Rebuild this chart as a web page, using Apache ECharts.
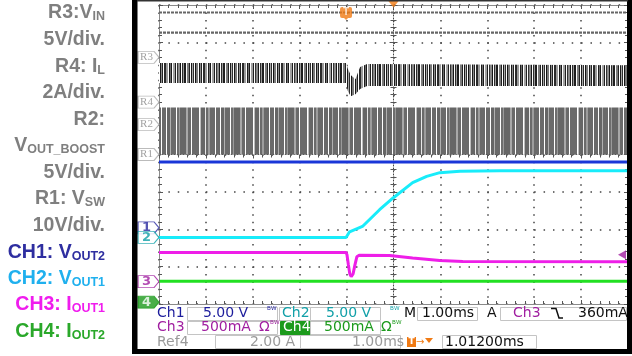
<!DOCTYPE html>
<html>
<head>
<meta charset="utf-8">
<script src="https://cdn.jsdelivr.net/npm/echarts@6/dist/echarts.min.js"></script>
<style>
  html, body { margin: 0; padding: 0; background: #fff; overflow: hidden; }
  #scope { width: 632px; height: 356px; }
</style>
</head>
<body>
<div id="scope"></div>
<script>
// ---- Timebase: 1.00 ms/div, screen centre 1.012 ms after the trigger ----
const TIME_PER_DIV = 1.0;      // ms per division
const H_DELAY = 1.012;         // ms
const TRIGGER_LEVEL = 0.36;    // A on Ch3 (falling edge)

// ---- Channel traces: time in ms after trigger, values in V or A ----
const vout2Time = [-3.988, 6.012];
const vout2Volt = [8.8, 8.8];

const vout1Time = [-3.988, 0, 0.075, 0.35, 0.715, 1.01, 1.42, 1.72, 2.0, 2.43, 3.28, 6.012];
const vout1Volt = [0, 0, 0.76, 1.47, 3.71, 5.32, 7.33, 8.18, 8.67, 8.87, 8.94, 8.94];

const iout1Time = [-3.988, 0, 0.02, 0.05, 0.08, 0.11, 0.15, 0.19, 0.23, 0.28, 0.93, 1.42, 2.0, 2.49, 6.012];
const iout1Amp  = [0.39, 0.39, 0.358, 0.224, 0.103, 0.067, 0.103, 0.224, 0.331, 0.351, 0.349, 0.314, 0.281, 0.268, 0.265];

const iout2Time = [-3.988, 6.012];
const iout2Amp  = [0.28, 0.28];

// ---- Reference waveforms ----
const vinTime = [-3.988, 6.012];
const vinVolt = [6.0, 6.0];

const vboostTime = [-3.988, 6.012];
const vboostVolt = [12.3, 12.3];

// inductor current ripple envelope (A)
const ilTime = [-3.988, 0, 0.04, 0.1, 0.2, 0.3, 0.45, 6.012];
const ilHigh = [2.09, 2.09, 1.77, 1.45, 1.23, 1.88, 2.04, 1.98];
const ilLow  = [1.02, 1.02, 0.59, 0.32, 0.43, 0.70, 0.86, 0.86];

// switch node swing (V)
const vswTime = [-3.988, 6.012];
const vswHigh = [12.6, 12.6];
const vswLow  = [0, 0];

// ---- Vertical settings: units per division and ground marker position (div) ----
const CH1 = { scale: 5,   pos: -1.96 };
const CH2 = { scale: 5,   pos: -2.22 };
const CH3 = { scale: 0.5, pos: -3.40 };
const CH4 = { scale: 0.5, pos: -3.95 };
const R1  = { scale: 10,  pos: 0 };
const R2  = { scale: 5,   pos: 0.80 };
const R3  = { scale: 5,   pos: 2.60 };
const R4  = { scale: 2,   pos: 1.40 };

const toDivX = t => (t - H_DELAY) / TIME_PER_DIV;

// vertical-stripe textures for the aliased switching waveforms
function stripePattern(stripes) {
  const total = stripes.reduce((s, st) => s + st[1], 0);
  const cv = document.createElement('canvas');
  cv.width = total; cv.height = 4;
  const ctx = cv.getContext('2d');
  let x = 0;
  for (const [col, w] of stripes) { ctx.fillStyle = col; ctx.fillRect(x, 0, w, 4); x += w; }
  return { image: cv, repeat: 'repeat' };
}
const ilFill = stripePattern([
  ['#151515',1],['#7a7a7a',2],['#fff',1],['#1a1a1a',1],['#8c8c8c',1],['#222',1],['#fff',1],
  ['#2a2a2a',2],['#9a9a9a',2],['#fff',1],['#1c1c1c',1],['#6e6e6e',1],['#1a1a1a',1],['#fff',1],
  ['#a0a0a0',2],['#202020',1],['#fff',1],['#333',1],['#888',2],['#161616',1],['#fff',1],
  ['#2b2b2b',1],['#9a9a9a',1],['#1e1e1e',2],['#fff',1],['#7c7c7c',2],['#222',1],['#fff',1],
  ['#1a1a1a',1],['#a8a8a8',1],['#2e2e2e',1],['#fff',1]
]);
const vswFill = stripePattern([
  ['#6a6a6a',4],['#fff',1],['#666',3],['#b0b0b0',1],['#6a6a6a',5],['#fff',1],['#6e6e6e',2],
  ['#9a9a9a',1],['#666',6],['#a8a8a8',2],['#6a6a6a',3],['#fff',1],['#6a6a6a',7],['#fff',1],
  ['#bdbdbd',1],['#666',4],['#e8e8e8',1],['#6a6a6a',2],['#9c9c9c',2],['#6a6a6a',5],['#fff',1]
]);

function bandSeries(name, times, lows, highs, c, fill) {
  return {
    name, type: 'custom', silent: true, z: 2, clip: true,
    data: [[0, 0]],
    renderItem(params, api) {
      const top = times.map((t, i) => api.coord([toDivX(t), c.pos + highs[i] / c.scale]));
      const bot = times.map((t, i) => api.coord([toDivX(t), c.pos + lows[i] / c.scale])).reverse();
      return { type: 'polygon', shape: { points: top.concat(bot) }, style: { fill } };
    }
  };
}

function traceSeries(name, times, vals, c, color, width, z, dash) {
  return {
    name, type: 'line', symbol: 'none', silent: true, z, clip: true,
    data: times.map((t, i) => [toDivX(t), c.pos + vals[i] / c.scale]),
    lineStyle: { color, width, type: dash || 'solid', cap: 'butt' }
  };
}

// channel / reference ground markers on the left edge
const TAG = 'path://M0,0 L16,0 L21,6 L16,12 L0,12 Z';
const T_ICON = 'path://M2,0 H10 Q12,0 12,2 V9 Q12,11 10,11 H8 L6,13 L4,11 H2 Q0,11 0,9 V2 Q0,0 2,0 Z';
function marker(text, c, border, fill, textColor, font, bold) {
  return {
    value: [-5, c.pos],
    symbol: TAG, symbolSize: [21, 12], symbolOffset: [-10.5, 0],
    itemStyle: { color: fill, borderColor: border, borderWidth: 1 },
    label: {
      show: true, position: 'inside', formatter: text, color: textColor,
      fontFamily: font, fontSize: bold ? 13 : 11, fontWeight: bold ? 'bold' : 'normal', offset: [-2, 0]
    }
  };
}

// graticule rulers
function ruler(dim, position, offset, extra) {
  const base = {
    type: 'value', position, offset,
    min: dim === 'x' ? -5 : -4, max: dim === 'x' ? 5 : 4, interval: 1,
    axisLine: { show: true, onZero: false, lineStyle: { color: '#8a8a8a', width: 1 } },
    axisTick: { show: true, inside: true, length: 4, lineStyle: { color: '#555' } },
    minorTick: { show: true, splitNumber: 5, length: 3, lineStyle: { color: '#555' } },
    axisLabel: { show: false },
    splitLine: { show: false }
  };
  return Object.assign(base, extra || {});
}
const centreLine = { show: true, onZero: false, lineStyle: { color: '#444', width: 1, type: [1, 2] } };

const xAxes = [
  ruler('x', 'bottom', 0, { splitLine: { show: true, lineStyle: { color: '#444', width: 1.5, type: [1.5, 5.97] } } }),
  ruler('x', 'top', 0),
  ruler('x', 'bottom', -149.5, { axisLine: centreLine }),
  ruler('x', 'top', -149.5, { axisLine: { show: false } })
];
const yAxes = [
  ruler('y', 'left', 0, { splitLine: { show: true, lineStyle: { color: '#444', width: 1.5, type: [1.5, 7.88] } } }),
  ruler('y', 'right', 0),
  ruler('y', 'left', -234.5, { axisLine: centreLine }),
  ruler('y', 'right', -234.5, { axisLine: { show: false } })
];

const series = [
  bandSeries('VSW', vswTime, vswLow, vswHigh, R1, vswFill),
  bandSeries('IL', ilTime, ilLow, ilHigh, R4, ilFill),
  traceSeries('VIN', vinTime, vinVolt, R3, '#666', 2.2, 3, [3, 1]),
  traceSeries('VOUT_BOOST', vboostTime, vboostVolt, R2, '#666', 2.2, 3, [3, 1]),
  traceSeries('IOUT2', iout2Time, iout2Amp, CH4, '#22e022', 3, 4),
  traceSeries('IOUT1', iout1Time, iout1Amp, CH3, '#ee1ee8', 3, 5),
  traceSeries('VOUT1', vout1Time, vout1Volt, CH2, '#18ecfa', 3, 6),
  traceSeries('VOUT2', vout2Time, vout2Volt, CH1, '#1a36d8', 3, 7),
  {
    name: 'markers', type: 'scatter', silent: true, clip: false, z: 10,
    data: [
      marker('R3', R3, '#aaa', '#fff', '#8a8a8a', 'Liberation Serif', false),
      marker('R4', R4, '#aaa', '#fff', '#8a8a8a', 'Liberation Serif', false),
      marker('R2', R2, '#aaa', '#fff', '#8a8a8a', 'Liberation Serif', false),
      marker('R1', R1, '#aaa', '#fff', '#8a8a8a', 'Liberation Serif', false),
      marker('1', CH1, '#2a2aa0', '#fff', '#2a2aa0', 'DejaVu Sans', true),
      marker('2', CH2, '#10a0a8', '#fff', '#10a0a8', 'DejaVu Sans', true),
      marker('3', CH3, '#a020a0', '#fff', '#a020a0', 'DejaVu Sans', true),
      marker('4', CH4, '#1c9a1c', '#1c9a1c', '#fff', 'DejaVu Sans', true),
      // trigger point, just below the top ruler
      {
        value: [toDivX(0), 3.77], symbol: T_ICON, symbolSize: [12, 13],
        itemStyle: { color: '#f07a14' },
        label: { show: true, position: 'inside', formatter: 'T', color: '#fff', fontSize: 10, fontWeight: 'bold', offset: [0, -1] }
      },
      // horizontal position indicator
      {
        value: [0, 4], symbol: 'path://M0,0 L10,0 L5,7 Z', symbolSize: [11, 7], symbolOffset: [0, -1],
        itemStyle: { color: '#f07a14' }
      },
      // trigger level
      {
        value: [5, CH3.pos + TRIGGER_LEVEL / CH3.scale], symbol: 'path://M8,0 L0,4.5 L8,9 Z',
        symbolSize: [8, 9], symbolOffset: [-6, 0], itemStyle: { color: '#a01ea0' }
      }
    ]
  }
];

// ---- side caption and readout panel ----
const GRAY = '#7f7f7f';
const capFont = 'bold 19.5px "Liberation Sans", Arial, sans-serif';
const subFont = 'bold 12.5px "Liberation Sans", Arial, sans-serif';
const captions = [
  { y: 13,  color: GRAY, parts: [['R3:V', 'b'], ['IN', 's']] },
  { y: 40,  color: GRAY, parts: [['5V/div.', 'b']] },
  { y: 67,  color: GRAY, parts: [['R4: I', 'b'], ['L', 's']] },
  { y: 93,  color: GRAY, parts: [['2A/div.', 'b']] },
  { y: 120, color: GRAY, parts: [['R2:', 'b']] },
  { y: 146, color: GRAY, parts: [['V', 'b'], ['OUT_BOOST', 's']] },
  { y: 173, color: GRAY, parts: [['5V/div.', 'b']] },
  { y: 199, color: GRAY, parts: [['R1: V', 'b'], ['SW', 's']] },
  { y: 226, color: GRAY, parts: [['10V/div.', 'b']] },
  { y: 253, color: '#2e2ea0', parts: [['CH1: V', 'b'], ['OUT2', 's']] },
  { y: 279, color: '#1fb0ee', parts: [['CH2: V', 'b'], ['OUT1', 's']] },
  { y: 305, color: '#f01cee', parts: [['CH3: I', 'b'], ['OUT1', 's']] },
  { y: 332, color: '#2aa82a', parts: [['CH4: I', 'b'], ['OUT2', 's']] }
];
const graphics = [];
captions.forEach(c => {
  graphics.push({
    type: 'text', x: 105, y: c.y, silent: true,
    style: {
      text: c.parts.map(p => '{' + p[1] + '|' + p[0] + '}').join(''),
      align: 'right', verticalAlign: 'middle',
      rich: {
        b: { font: capFont, fill: c.color, lineHeight: 20 },
        s: { font: subFont, fill: c.color, lineHeight: 16, verticalAlign: 'bottom' }
      }
    }
  });
});

const PF = '14px "DejaVu Sans", sans-serif';
const BW = '9px "DejaVu Sans", sans-serif';
function txt(x, y, text, fill, font) {
  return { type: 'text', x, y, silent: true, style: { text, fill, font: font || PF, verticalAlign: 'middle' } };
}
function box(x, y, w, h, fill) {
  return { type: 'rect', silent: true, shape: { x, y, width: w, height: h },
    style: { fill: fill || 'none', stroke: fill || '#c4c4c4', lineWidth: 1 } };
}
const r1 = 313.5, r2 = 327.5, r3 = 342;
graphics.push(
  // row 1
  box(187.5, 307.5, 90, 13), box(279.5, 307.5, 31, 13), box(310.5, 307.5, 70, 13),
  box(417.5, 307.5, 60, 13), box(500.5, 307.5, 126, 13),
  txt(157, r1, 'Ch1', '#1c1c9c'), txt(203, r1, '5.00 V', '#1c1c9c'), txt(267, r1 - 3, 'ᴮᵂ', '#1c1c9c', BW),
  txt(282, r1, 'Ch2', '#12a0a8'), txt(326, r1, '5.00 V', '#12a0a8'), txt(390, r1 - 3, 'ᴮᵂ', '#12a0a8', BW),
  txt(404, r1, 'M', '#111'), txt(422, r1, '1.00ms', '#111'), txt(487, r1, 'A', '#111'),
  txt(513, r1, 'Ch3', '#a01ea0'), txt(578, r1, '360mA', '#111'),
  { type: 'polyline', silent: true, shape: { points: [[551, 308.5], [556, 308.5], [559, 318], [563, 318]] },
    style: { stroke: '#111', lineWidth: 1.5, fill: 'none' } },
  // row 2
  box(187.5, 321.5, 90, 13), box(280.5, 321.5, 30, 13, '#1c9a1c'), box(310.5, 321.5, 70, 13),
  txt(157, r2, 'Ch3', '#a01ea0'), txt(201, r2, '500mA', '#a01ea0'), txt(259, r2, 'Ω', '#a01ea0'),
  txt(270, r2 - 3, 'ᴮᵂ', '#a01ea0', BW),
  txt(283, r2, 'Ch4', '#fff'), txt(324, r2, '500mA', '#1c9a1c'), txt(381, r2, 'Ω', '#1c9a1c'),
  txt(392, r2 - 3, 'ᴮᵂ', '#1c9a1c', BW),
  // row 3
  box(215.5, 335.5, 85, 13), box(300.5, 335.5, 100, 13), box(442.5, 335.5, 94, 13),
  txt(157, r3, 'Ref4', '#9a9a9a'), txt(250, r3, '2.00 A', '#9a9a9a'), txt(352, r3, '1.00ms', '#9a9a9a'),
  { type: 'rect', silent: true, shape: { x: 407, y: 337, width: 9, height: 10 }, style: { fill: '#f07a14' } },
  txt(408.5, r3, 'T', '#fff', 'bold 9px "DejaVu Sans", sans-serif'),
  txt(416, r3, '→', '#f07a14', '10px "DejaVu Sans", sans-serif'),
  { type: 'polygon', silent: true, shape: { points: [[425, 338], [433, 338], [429, 343]] }, style: { fill: '#f07a14' } },
  txt(445, r3, '1.01200ms', '#111')
);

// instrument bezel around the display, on its own layer above the traces
graphics.push(
  { type: 'rect', silent: true, zlevel: 1, shape: { x: 132, y: 0, width: 5.5, height: 354 }, style: { fill: '#000' } },
  { type: 'rect', silent: true, zlevel: 1, shape: { x: 132, y: 349, width: 500, height: 5 }, style: { fill: '#000' } },
  { type: 'rect', silent: true, zlevel: 1, shape: { x: 627, y: 0, width: 5, height: 354 }, style: { fill: '#000' } },
  { type: 'rect', silent: true, zlevel: 1, shape: { x: 137, y: 0, width: 491, height: 1.5 }, style: { fill: '#333' } }
);

const chart = echarts.init(document.getElementById('scope'), null, { renderer: 'canvas', width: 632, height: 356 });
chart.setOption({
  animation: false,
  backgroundColor: '#fff',
  grid: { left: 159, right: 4, top: 5, bottom: 52, containLabel: false },
  xAxis: xAxes,
  yAxis: yAxes,
  series,
  graphic: { elements: graphics }
});
</script>
</body>
</html>
